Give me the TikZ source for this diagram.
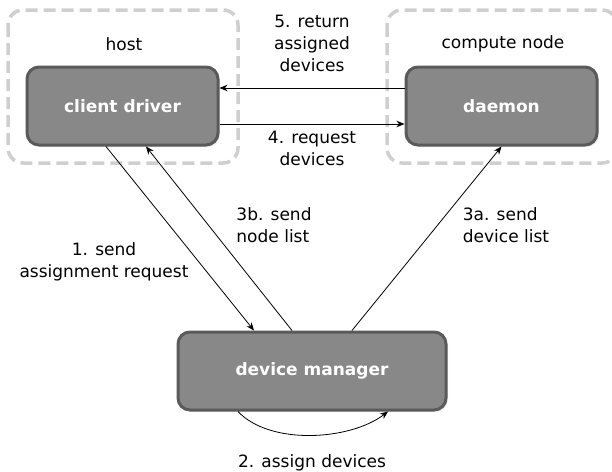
\documentclass[tikz,border=0pt]{standalone}
\usepackage{fontspec}
\setmainfont{DejaVu Sans}
\usetikzlibrary{arrows.meta,calc,shadows}
\definecolor{boxfill}{HTML}{888888}
\definecolor{boxline}{HTML}{5A5A5A}
\definecolor{groupline}{HTML}{CFCFCF}
\begin{document}
\begin{tikzpicture}[
          x=1pt, y=-1pt,
          every node/.style={font=\fontsize{17}{22}\selectfont},
          group/.style={draw=groupline, line width=3.5pt, dash pattern=on 12pt off 6pt, rounded corners=15pt},
          box/.style={draw=boxline, fill=boxfill, line width=3pt, rounded corners=12pt,
                      minimum height=78pt, text=white, font=\fontsize{17}{22}\selectfont\bfseries,
                      drop shadow={opacity=0.15, shadow xshift=2pt, shadow yshift=-2pt}},
          lbl/.style={align=center},
          arr/.style={-{Stealth[length=8pt,width=6.5pt]}, line width=0.8pt}
        ]
        \useasboundingbox (0,0) rectangle (612,471);

        % Groups
        \draw[group] (8,10) rectangle (238,163);
        \draw[group] (387,10) rectangle (617,163);
        \node (host) at (124,44) {host};
        \node (computenode) at (503,44) {compute node};

        % Boxes
        \node[box, minimum width=191pt] (client) at (122.5,106) {client driver};
        \node[box, minimum width=191pt] (daemon) at (501.5,106) {daemon};
        \node[box, minimum width=268pt] (manager) at (312,371) {device manager};

        % Top arrows
        \draw[arr] ($(daemon.west)+(0,-18)$) -- ($(client.east)+(0,-18)$);
        \draw[arr] ($(client.east)+(0,18)$) -- ($(daemon.west)+(0,18)$);
        \node[lbl] (ret) at (312,43) {5. return\\assigned\\devices};
        \node[lbl] (req) at (312,148) {4. request\\devices};

        % Diagonal arrows
        \draw[arr] ($(client.south)+(-16.5,0)$) -- ($(manager.north)+(-58,0)$);
        \draw[arr] ($(manager.north)+(-20,0)$) -- ($(client.south)+(23.5,0)$);
        \draw[arr] ($(manager.north)+(40,0)$) -- (daemon.south);
        \node[lbl] (send) at (104,262) {1. send\\assignment request};
        \node[align=left] (nodelist) at (274,225) {3b. send\\node list};
        \node[align=left] (devlist) at (506,225) {3a. send\\device list};

        % Bottom loop
        \draw[arr] ($(manager.south)+(-74,0)$) .. controls ($(manager.south)+(-42,34)$) and ($(manager.south)+(38,29)$) .. ($(manager.south)+(76,0)$);
        \node[lbl] (assign) at (312,463) {2. assign devices};

      \end{tikzpicture}
\end{document}
